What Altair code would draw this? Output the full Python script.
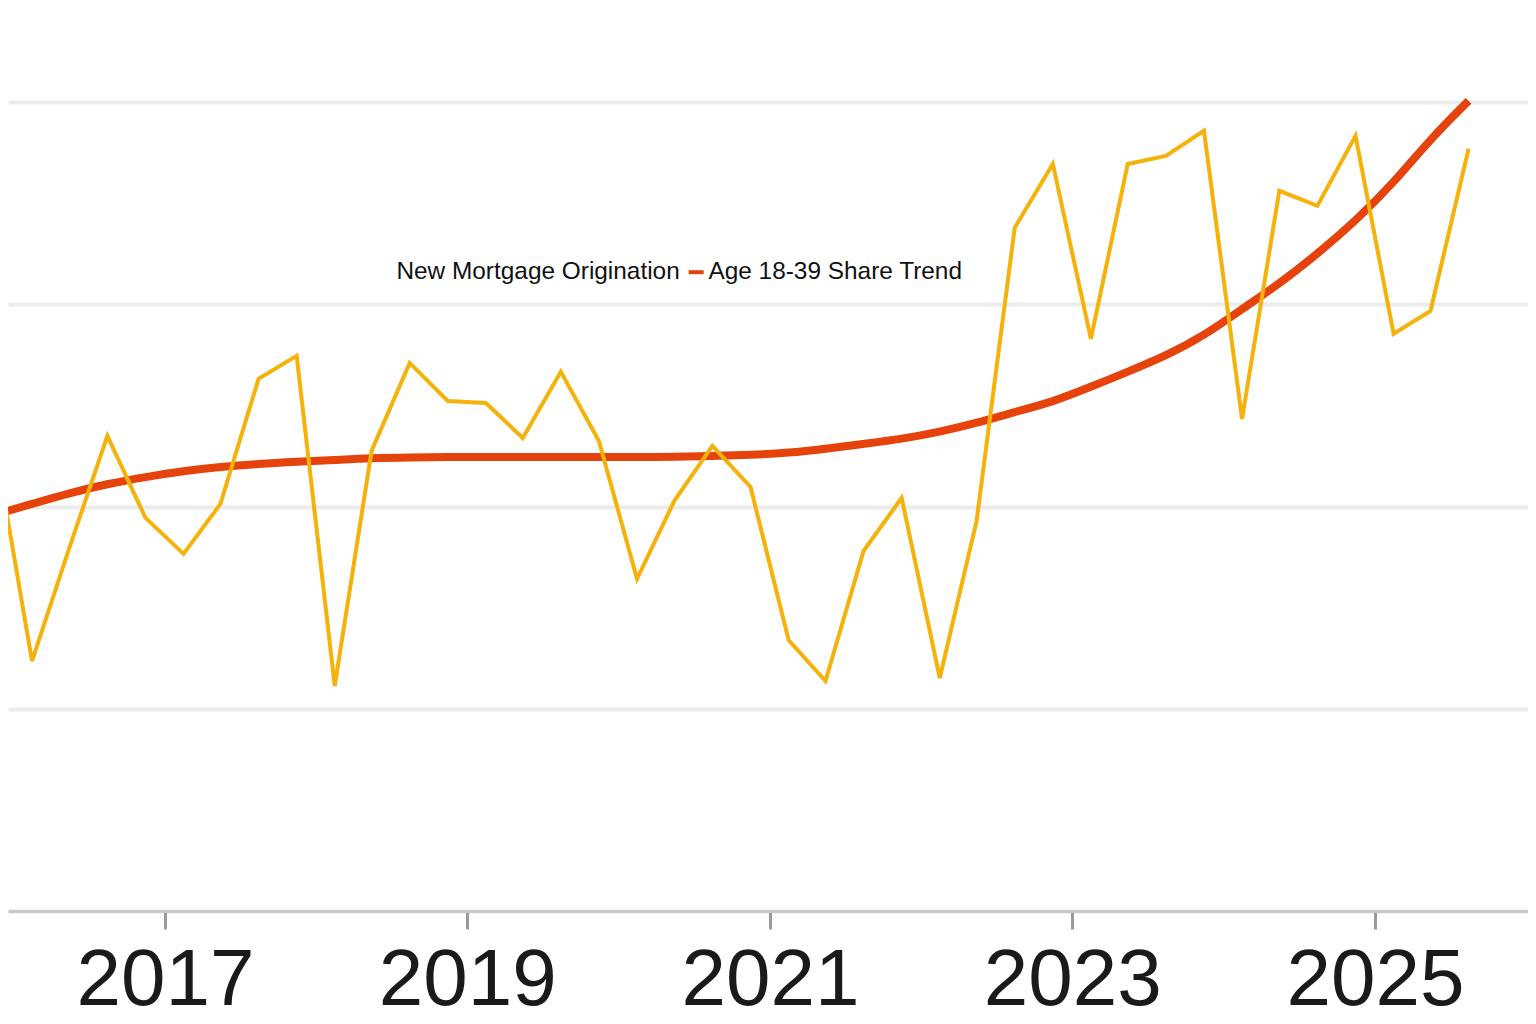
import altair as alt
import pandas as pd

# Quarterly observation dates (mid-quarter)
dates = [
    "2015-11-15",
    "2016-02-15", "2016-05-15", "2016-08-15", "2016-11-15",
    "2017-02-15", "2017-05-15", "2017-08-15", "2017-11-15",
    "2018-02-15", "2018-05-15", "2018-08-15", "2018-11-15",
    "2019-02-15", "2019-05-15", "2019-08-15", "2019-11-15",
    "2020-02-15", "2020-05-15", "2020-08-15", "2020-11-15",
    "2021-02-15", "2021-05-15", "2021-08-15", "2021-11-15",
    "2022-02-15", "2022-05-15", "2022-08-15", "2022-11-15",
    "2023-02-15", "2023-05-15", "2023-08-15", "2023-11-15",
    "2024-02-15", "2024-05-15", "2024-08-15", "2024-11-15",
    "2025-02-15", "2025-05-15", "2025-08-15",
]

origination = [
    23.34,
    12.36, 17.95, 23.49, 19.44,
    17.66, 20.13, 26.31, 27.45,
    11.13, 22.75, 27.10, 25.22,
    25.12, 23.39, 26.66, 23.24,
    16.42, 20.28, 23.00, 20.97,
    13.40, 11.37, 17.80, 20.43,
    11.52, 19.29, 33.78, 36.94,
    28.29, 36.94, 37.34, 38.58,
    24.33, 35.61, 34.87, 38.33,
    28.54, 29.67, 37.69,
]

trend = [
    19.58,
    20.13, 20.67, 21.12, 21.46,
    21.76, 21.96, 22.11, 22.21,
    22.30, 22.40, 22.43, 22.45,
    22.45, 22.45, 22.45, 22.45,
    22.45, 22.45, 22.50, 22.55,
    22.65, 22.85, 23.10, 23.34,
    23.69, 24.13, 24.68, 25.17,
    25.92, 26.66, 27.45, 28.44,
    29.77, 31.01, 32.49, 34.12,
    36.00, 38.18, 40.06,
]

series_names = ["New Mortgage Origination", "Age 18-39 Share Trend"]
yellow = "#F5B20A"
red = "#E6420B"
tick_years = [2017, 2019, 2021, 2023, 2025]

df = pd.concat([
    pd.DataFrame({"date": dates, "value": origination, "series": series_names[0]}),
    pd.DataFrame({"date": dates, "value": trend, "series": series_names[1]}),
])

x_enc = alt.X(
    "date:T",
    scale=alt.Scale(
        type="utc",
        domain=[alt.DateTime(year=2015, month=12, date=19, utc=True),
                alt.DateTime(year=2026, month=1, date=5, hours=12, utc=True)],
        nice=False,
    ),
    axis=alt.Axis(
        values=[alt.DateTime(year=y, month=1, date=1, utc=True) for y in tick_years],
        format="%Y",
        title=None,
        grid=False,
        domainColor="#c8c8c8",
        domainWidth=3,
        tickColor="#9a9a9a",
        tickWidth=3,
        tickSize=18,
        labelPadding=12,
        labelFontSize=80,
        labelFont="Liberation Sans",
        labelColor="#1a1a1a",
        labelFlush=False,
        labelOverlap=False,
    ),
)

y_enc = alt.Y(
    "value:Q",
    scale=alt.Scale(domain=[0, 44.65], nice=False, zero=False),
    axis=alt.Axis(
        values=[0, 10, 20, 30, 40],
        title=None,
        labels=False,
        ticks=False,
        domain=False,
        grid=True,
        gridColor="#ececec",
        gridWidth=4,
    ),
)

legend_common = dict(
    title=None,
    orient="none",
    direction="horizontal",
    symbolSize=225,
    symbolStrokeWidth=4,
    labelFontSize=24.4,
    labelFont="Liberation Sans",
    labelColor="#111111",
    labelLimit=600,
    padding=0,
    legendY=252,
)

base = alt.Chart(df).encode(x=x_enc, y=y_enc)

trend_line = base.transform_filter(
    alt.datum.series == series_names[1]
).mark_line(strokeWidth=8, interpolate="basis", clip=True).encode(
    color=alt.Color(
        "series:N",
        scale=alt.Scale(domain=[series_names[1]], range=[red]),
        legend=alt.Legend(legendX=676, symbolType="stroke", labelOffset=0,
                          **legend_common),
    )
)

orig_line = base.transform_filter(
    alt.datum.series == series_names[0]
).mark_line(strokeWidth=4, clip=True, color=yellow).encode(
    opacity=alt.Opacity(
        "series:N",
        scale=alt.Scale(domain=[series_names[0]], range=[1]),
        legend=alt.Legend(legendX=360, symbolType="M0,0", labelOffset=4,
                          **legend_common),
    )
)

chart = alt.layer(trend_line, orig_line).properties(
    width=1520,
    height=903,
    autosize=alt.AutoSizeParams(type="none"),
    padding={"left": 0, "top": 0, "right": 0, "bottom": 100},
    background="white",
).configure_view(stroke=None)

chart.save("out.html", embed_options={"renderer": "svg", "actions": False})
